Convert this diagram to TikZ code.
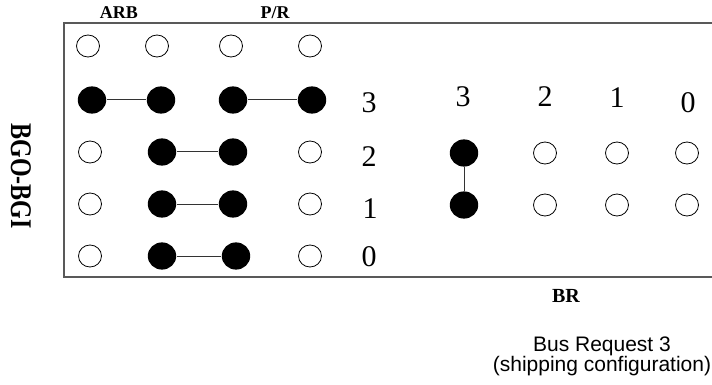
\documentclass[tikz,border=0pt]{standalone}
\usepackage{fontspec}
\setmainfont{Liberation Serif}
\newfontfamily\capfont{Liberation Sans}
\usetikzlibrary{shapes.geometric}

\begin{document}
\begin{tikzpicture}[
    x=0.5pt, y=-0.5pt,
    pin/.style={
      ellipse,
      draw=black,
      line width=0.4pt,
      fill=white,
      inner sep=0pt,
      minimum width=11.5pt,
      minimum height=11pt
    },
    jumper/.style={
      ellipse,
      fill=black,
      inner sep=0pt,
      minimum width=14.2pt,
      minimum height=13.6pt
    },
    wire/.style={line width=0.5pt, draw=black!80},
    frame/.style={line width=0.7pt, draw=black!65},
    num/.style={font=\fontsize{15}{17}\selectfont, inner sep=0pt},
    head/.style={font=\fontsize{9}{10}\selectfont\bfseries, inner sep=0pt}
  ]
    \useasboundingbox (0,0) rectangle (712,385);

    % header frame, open at the right
    \draw[frame] (712,23) -- (64,23) -- (64,277) -- (712,277);

    \node[head] (arb) at (119,13) {ARB};
    \node[head] (pr) at (275,13) {P/R};
    \node[font=\fontsize{12}{14}\selectfont\bfseries, rotate=-90, inner sep=0pt] (bgo) at (21,176)
      {\scalebox{1}[1.25]{BGO-BGI}};

    % ARB / P/R pins
    \node[pin] (ta) at (88,46) {};
    \node[pin] (tb) at (157,46) {};
    \node[pin] (tc) at (231,46) {};
    \node[pin] (td) at (310,46) {};

    \node[jumper] (r3a) at (92,100) {};
    \node[jumper] (r3b) at (161,100) {};
    \node[jumper] (r3c) at (233,100) {};
    \node[jumper] (r3d) at (312,100) {};

    \node[pin] (r2a) at (90,152) {};
    \node[jumper] (r2b) at (162,152) {};
    \node[jumper] (r2c) at (233,152) {};
    \node[pin] (r2d) at (310,152) {};

    \node[pin] (r1a) at (90,204) {};
    \node[jumper] (r1b) at (162,204) {};
    \node[jumper] (r1c) at (233,204) {};
    \node[pin] (r1d) at (310,204) {};

    \node[pin] (r0a) at (90,256) {};
    \node[jumper] (r0b) at (162,256) {};
    \node[jumper] (r0c) at (236,256) {};
    \node[pin] (r0d) at (310,256) {};

    \node[num] (n3) at (369,103) {3};
    \node[num] (n2) at (369,157) {2};
    \node[num] (n1) at (370,209) {1};
    \node[num] (n0) at (369,257) {0};

    % BR pins
    \node[num] (c3) at (463,97) {3};
    \node[num] (c2) at (545,97) {2};
    \node[num] (c1) at (617,98) {1};
    \node[num] (c0) at (688,103) {0};

    \node[jumper] (b3u) at (464,153) {};
    \node[pin] (b2u) at (545,153) {};
    \node[pin] (b1u) at (617,153) {};
    \node[pin] (b0u) at (687,153) {};

    \node[jumper] (b3l) at (464,205) {};
    \node[pin] (b2l) at (545,205) {};
    \node[pin] (b1l) at (617,205) {};
    \node[pin] (b0l) at (687,205) {};

    \node[font=\fontsize{10}{12}\selectfont\bfseries, inner sep=0pt] (br) at (566,296) {BR};
    \node[font=\capfont\fontsize{10.5}{10}\selectfont, align=center, inner sep=0pt] (cfg) at (602,356)
      {Bus Request 3\\(shipping configuration)};

    \draw[wire] (r3a) -- (r3b);
    \draw[wire] (r3c) -- (r3d);
    \draw[wire] (r2b) -- (r2c);
    \draw[wire] (r1b) -- (r1c);
    \draw[wire] (r0b) -- (r0c);
    \draw[wire] (b3u) -- (b3l);
  \end{tikzpicture}
\end{document}
